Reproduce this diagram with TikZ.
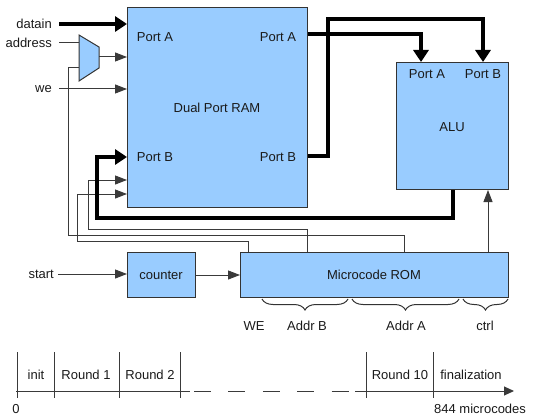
\documentclass[tikz,border=0pt]{standalone}
\usepackage{fontspec}
\setmainfont{Liberation Sans}
\usetikzlibrary{arrows.meta,decorations.pathreplacing}
\definecolor{boxblue}{HTML}{99CCFF}
\definecolor{edge}{HTML}{333333}
\definecolor{wire}{HTML}{3A3A3A}
\definecolor{txt}{HTML}{1A1A1A}
\begin{document}
\begin{tikzpicture}[x=1pt,y=-1pt, font=\fontsize{13}{15}\selectfont, text=txt,
 blk/.style={draw=edge, fill=boxblue, line width=1pt, inner sep=0, anchor=north west},
 lbl/.style={inner sep=0},
 wirel/.style={draw=wire, line width=1pt},
 thinarr/.style={wirel, -{Triangle[length=12pt,width=9pt]}},
 thk/.style={line width=4pt, draw=black},
 thkarr/.style={thk, -{Triangle[length=12pt,width=15pt]}},
 bracest/.style={draw=edge, line width=1pt, decorate, decoration={brace, mirror, amplitude=11pt}},
 tick/.style={draw=wire, line width=1pt}
 ]
\useasboundingbox (0,0) rectangle (544,420);

% boxes
\node[blk, minimum width=180pt, minimum height=200pt] (ram) at (127,7) {};
\node[blk, minimum width=112pt, minimum height=127pt] (alu) at (396,62) {};
\node[blk, minimum width=68pt, minimum height=45pt] (cnt) at (127,252) {};
\node[blk, minimum width=268pt, minimum height=45pt] (rom) at (240,252) {};

% box texts
\node[lbl] (ramt) at (217,108) {Dual Port RAM};
\node[lbl] (pal) at (155,37) {Port A};
\node[lbl] (par) at (278,37) {Port A};
\node[lbl] (pbl) at (155,157) {Port B};
\node[lbl] (pbr) at (278,157) {Port B};
\node[lbl] (alua) at (427,74) {Port A};
\node[lbl] (alub) at (483,74) {Port B};
\node[lbl] (alut) at (452,127) {ALU};
\node[lbl] (cntt) at (161,275) {counter};
\node[lbl] (romt) at (374,275) {Microcode ROM};

% mux
\draw[draw=edge, fill=boxblue, line width=1pt] (79,35) -- (99,47) -- (99,68) -- (79,81) -- cycle;
\coordinate (muxin1) at (79,43);
\coordinate (muxin2) at (79,68);
\coordinate (muxout) at (99,57);

% input labels
\node[lbl, anchor=east] (tdatain) at (52,24) {datain};
\node[lbl, anchor=east] (taddr) at (52,43) {address};
\node[lbl, anchor=east] (twe) at (52,89) {we};
\node[lbl, anchor=east] (tstart) at (54,274) {start};

% thin wires
\draw[wirel] ([xshift=7pt]taddr.east) -- (muxin1);
\draw[thinarr] (muxout) -- (muxout -| ram.west);
\draw[thinarr] ([xshift=7pt]twe.east) -- (twe.east -| ram.west);
\draw[thinarr] ([xshift=4pt]tstart.east) -- (tstart.east -| cnt.west);
\draw[thinarr] (cnt.east) -- (cnt.east -| rom.west);
\draw[wirel] ([xshift=164pt]rom.north west) |- (68,235) |- (muxin2);
\draw[thinarr] ([xshift=67pt]rom.north west) |- (88,229) |- (ram.west |- 0,180);
\draw[thinarr] ([xshift=8pt]rom.north west) |- (77,241) |- (ram.west |- 0,194);
\draw[thinarr] ([xshift=248pt]rom.north west) -- ([xshift=92pt]alu.south west);

% thick buses
\draw[thkarr] ([xshift=7pt]tdatain.east) -- (tdatain.east -| ram.west);
\draw[thkarr] (ram.east |- 0,34) -| ([xshift=25pt]alu.north west);
\draw[thkarr] (ram.east |- 0,156) -- (328,156) -- (328,19) -| ([xshift=87pt]alu.north west);
\draw[thkarr] ([xshift=57pt]alu.south west) -- (453,218) -- (97,218) -- (97,157) -- (ram.west |- 0,157);

% braces and field labels
\draw[bracest] (262,299) -- (348,299);
\draw[bracest] (352,299) -- (459,299);
\draw[bracest] (463,299) -- (508,299);
\node[lbl] (fwe) at (254,326) {WE};
\node[lbl] (fab) at (307,326) {Addr B};
\node[lbl] (faa) at (406,326) {Addr A};
\node[lbl] (fct) at (485,326) {ctrl};

% timeline
\draw[tick] (16,391) -- (190,391);
\draw[tick, dash pattern=on 17pt off 17.4pt] (194,391) -- (355,391);
\draw[tick, -{Triangle[length=10pt,width=9pt]}] (355,391) -- (514,391);
\foreach \x in {17,54,119,180,366,433} \draw[tick] (\x,352) -- (\x,398);
\node[lbl] (tinit) at (36,375) {init};
\node[lbl] (tr1) at (86,375) {Round 1};
\node[lbl] (tr2) at (150,375) {Round 2};
\node[lbl] (tr10) at (400,375) {Round 10};
\node[lbl] (tfin) at (471,375) {finalization};
\node[lbl] (tzero) at (16,409) {0};
\node[lbl, anchor=west] (tend) at (434,409) {844 microcodes};
\end{tikzpicture}
\end{document}
